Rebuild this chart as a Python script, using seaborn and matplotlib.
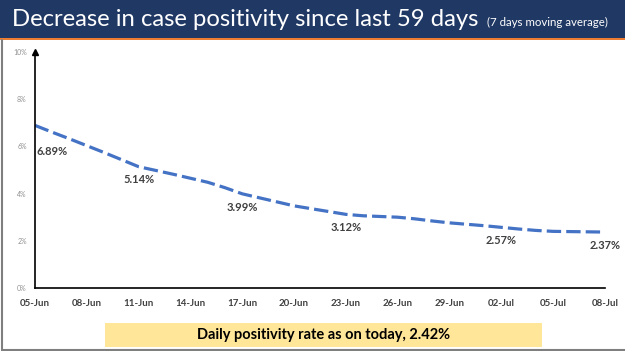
import pandas as pd
import numpy as np
import matplotlib
matplotlib.use('Agg')
import matplotlib.pyplot as plt
import matplotlib.dates as mdates
from matplotlib.patches import Rectangle
from matplotlib.lines import Line2D
import seaborn as sns

sns.set_style('white')
plt.rcParams['font.family'] = ['Lato', 'DejaVu Sans']

# 7 day moving average of case positivity, 05-Jun to 08-Jul
start_date = '2020-06-05'
end_date = '2020-07-08'
positivity = [6.89, 6.60, 6.32, 6.03, 5.74, 5.44, 5.14,
              4.98, 4.82, 4.65, 4.48, 4.25, 3.99,
              3.82, 3.65, 3.48, 3.36, 3.24, 3.12,
              3.06, 3.03, 3.00, 2.93, 2.84, 2.76,
              2.70, 2.64, 2.57, 2.50, 2.44, 2.40, 2.39, 2.38, 2.37]
labelled_idx = [0, 6, 12, 18, 27, 33]
title = 'Decrease in case positivity since last 59 days'
subtitle = '(7 days moving average)'
footer = 'Daily positivity rate as on today, 2.42%'

dates = pd.date_range(start_date, end_date)
df = pd.DataFrame({'date': dates, 'positivity': positivity})

fig = plt.figure(figsize=(6.25, 3.51), dpi=100)
fig.patch.set_facecolor('white')

# title bar
fig.patches.append(Rectangle((0, 1 - 38/351), 1, 38/351, transform=fig.transFigure,
                             facecolor='#203864', edgecolor='none', zorder=0))
fig.patches.append(Rectangle((0, 1 - 40/351), 1, 2/351, transform=fig.transFigure,
                             facecolor='#ed7d31', edgecolor='none', zorder=0))
fig.text(12/625, 1 - 20/351, title, color='white', fontsize=17.2, va='center', ha='left')
fig.text(487/625, 1 - 22/351, subtitle, color='white', fontsize=8.3, va='center', ha='left')

ax = fig.add_axes([35/625, 1 - 288/351, 570/625, 236/351])
sns.lineplot(data=df, x='date', y='positivity', ax=ax, color='#4472c4',
             linewidth=2.3, dashes=False)
ax.lines[0].set_dashes((4.5, 1.6))

ax.set_xlim(dates[0], dates[-1])
ax.set_ylim(0, 10)
ax.set_xticks(dates[::3])
ax.xaxis.set_major_formatter(mdates.DateFormatter('%d-%b'))
ax.set_yticks(np.arange(0, 11, 2))
ax.set_yticklabels([f'{v}%' for v in range(0, 11, 2)])
ax.set_xlabel('')
ax.set_ylabel('')
ax.tick_params(axis='x', direction='out', length=4, width=1, color='black',
               labelsize=7, labelcolor='#404040', pad=4)
for t in ax.get_xticklabels():
    t.set_fontweight('bold')
ax.tick_params(axis='y', length=0, labelsize=5, labelcolor='#909090', pad=6)

for s in ['top', 'right']:
    ax.spines[s].set_visible(False)
for s in ['left', 'bottom']:
    ax.spines[s].set_color('black')
    ax.spines[s].set_linewidth(1.2)
ax.plot(0, 1, marker='^', color='black', markersize=4, transform=ax.transAxes, clip_on=False)

for i in labelled_idx:
    dx, dy = (12, -18.5) if i == 0 else (0, -9.5)
    ax.annotate(f'{positivity[i]:.2f}%', (dates[i], positivity[i]),
                xytext=(dx, dy), textcoords='offset points',
                ha='center', va='center', fontsize=8, fontweight='bold', color='#404040')

# footer box
fig.patches.append(Rectangle((105/625, 1 - 347/351), 437/625, 24/351, transform=fig.transFigure,
                             facecolor='#ffe699', edgecolor='none', zorder=0))
fig.text(323.5/625, 1 - 335/351, footer, fontsize=10.5, fontweight='bold',
         ha='center', va='center', color='black')

# slide frame (left and bottom edges)
fig.lines.append(Line2D([0.003, 0.003], [0.004, 1 - 40/351], transform=fig.transFigure,
                        color='#7f7f7f', linewidth=1.5))
fig.lines.append(Line2D([0.003, 1], [0.004, 0.004], transform=fig.transFigure,
                        color='#7f7f7f', linewidth=1.5))

fig.savefig('out.png', dpi=100)
